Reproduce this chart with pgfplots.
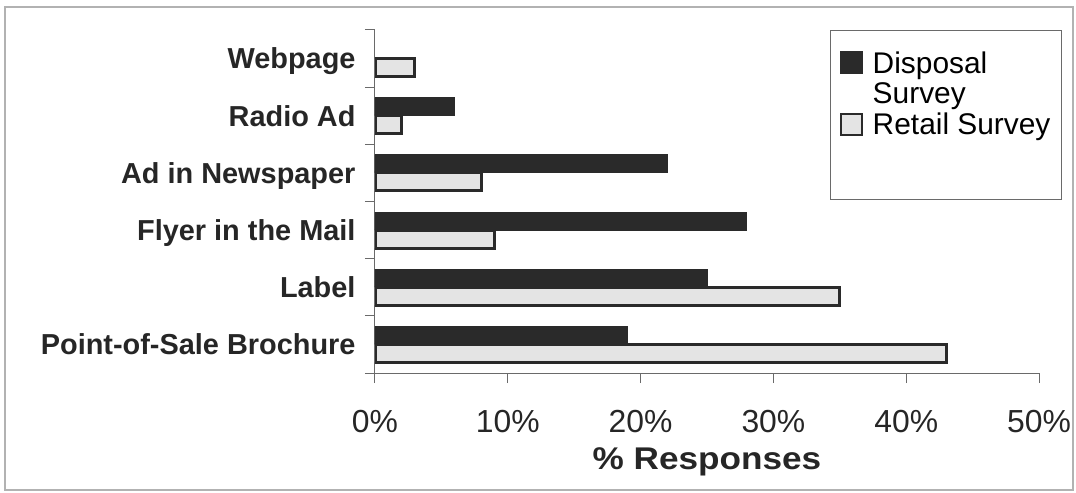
\documentclass[border=0pt]{standalone}
\usepackage{pgfplots}
\pgfplotsset{compat=1.18}
\usepackage{fontspec}
\setmainfont{Liberation Sans}
\definecolor{darkbar}{HTML}{2A2A2A}
\definecolor{lightbar}{HTML}{E4E4E4}
\definecolor{axgray}{HTML}{6A6A6A}
\begin{document}
\begin{tikzpicture}
\useasboundingbox (0bp,0bp) rectangle (1076bp,493bp);
\draw[gray!60, line width=1.2bp] (5bp,3bp) rectangle (1073bp,486bp);
\begin{axis}[
  at={(375bp,120bp)}, anchor=south west,
  scale only axis, width=664bp, height=343bp,
  xmin=0, xmax=50, ymin=0.5, ymax=6.5,
  axis x line*=bottom, axis y line*=left,
  axis line style={axgray, line width=1bp},
  xtick={0,10,20,30,40,50},
  xticklabels={0\%,10\%,20\%,30\%,40\%,50\%},
  tick align=outside,
  major tick length=10bp,
  tick style={axgray, line width=1bp},
  xticklabel style={font=\fontsize{32}{34}\selectfont, text=black!85, yshift=-24bp},
  ytick={1,2,3,4,5,6},
  yticklabels={Point-of-Sale Brochure,Label,Flyer in the Mail,Ad in Newspaper,Radio Ad,Webpage},
  ytick style={draw=none},
  yticklabel style={font=\bfseries\fontsize{29}{31}\selectfont, text=black!85, anchor=base east, yshift=-10.4bp, xshift=-6bp},
  extra y ticks={0.5,1.5,2.5,3.5,4.5,5.5,6.5},
  extra y tick labels={},
  extra y tick style={ytick style={draw=axgray, line width=1bp}},
  xlabel={\scalebox{1.12}[1]{\% Responses}},
  xlabel style={font=\bfseries\fontsize{31.5}{33}\selectfont, text=black!85, yshift=-8bp},
  xbar, bar width=18bp,
  legend style={at={(rel axis cs:1.0346,1.0)}, anchor=north east,
    draw=axgray, line width=1bp, font=\fontsize{30}{30}\selectfont,
    cells={anchor=base west}, nodes={inner sep=1bp, text depth=},
    inner xsep=10bp, inner ysep=20bp, row sep=-1bp},
  legend image code/.code={\draw[#1, line width=2bp] (0bp,0bp) rectangle (21bp,21bp);\path (29bp,0bp);},
]
\addplot[draw=darkbar, fill=darkbar, line width=1bp, bar shift=9bp]
  coordinates {(19,1) (25,2) (28,3) (22,4) (6,5)};
\addplot[draw=darkbar, fill=lightbar, line width=3bp, bar shift=-9bp]
  coordinates {(43,1) (35,2) (9,3) (8,4) (2,5) (3,6)};
\legend{{\begin{tabular}[t]{@{}l@{}}Disposal\\Survey\end{tabular}},{Retail Survey\rule[-44bp]{0pt}{0pt}}}
\end{axis}
\end{tikzpicture}
\end{document}
